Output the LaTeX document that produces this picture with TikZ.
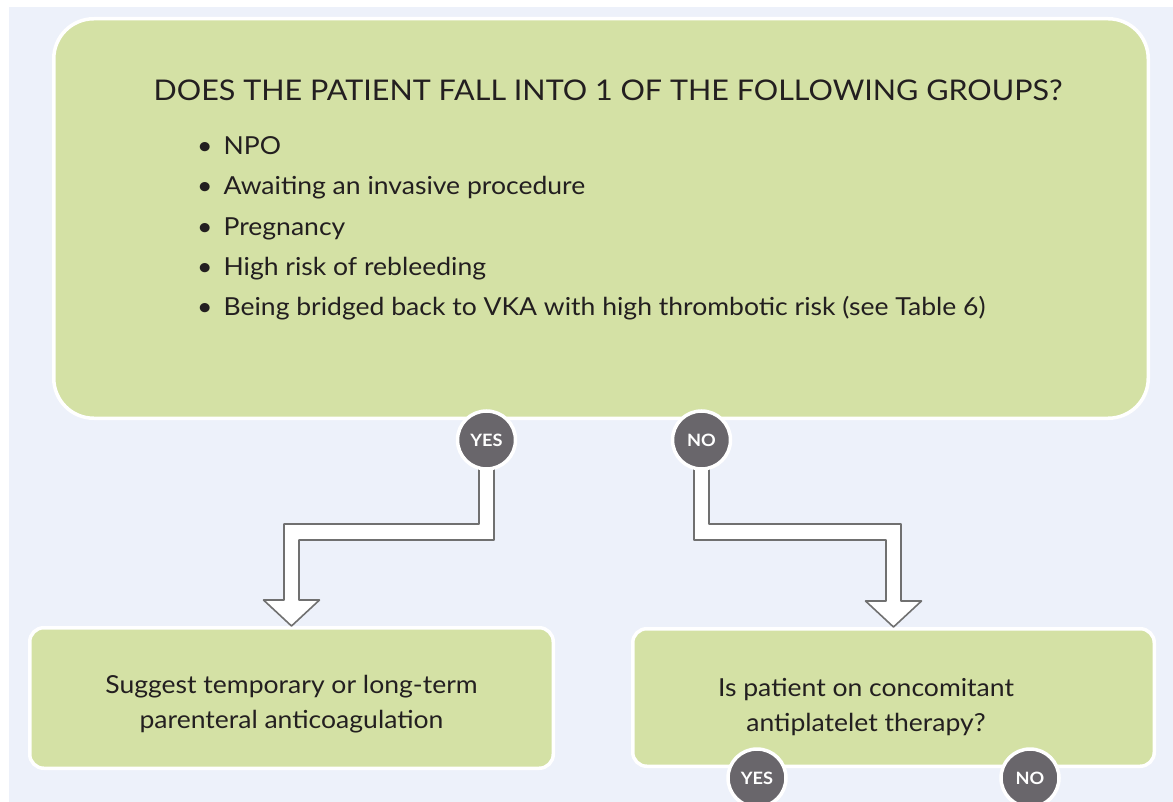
\documentclass[tikz,border=0pt]{standalone}
\usepackage{fontspec}
\setmainfont{Lato}[FakeStretch=1.07]
\usetikzlibrary{calc, positioning}

\definecolor{pagebg}{HTML}{EDF1FA}
\definecolor{boxgreen}{HTML}{D4E1A5}
\definecolor{dotgrey}{HTML}{69666B}
\definecolor{linegrey}{HTML}{707070}
\definecolor{ink}{HTML}{231F20}

\pgfdeclarelayer{under}
\pgfsetlayers{under,main}

% hollow bent arrow: from node, to anchor, corner offset (+8 goes left, -8 goes right)
\newcommand{\hollowarrow}[3]{%
\draw [arrowbody] ($(#1)+(-7.5,0)$) -- ($(#1 |- bend)+(-7.5,#3)$)
  -- ($(#2 |- bend)+(-7.5,#3)$) -- ($(#2)+(-7.5,26)$) -- ($(#2)+(-28,26)$)
  -- (#2) -- ($(#2)+(28,26)$) -- ($(#2)+(7.5,26)$)
  -- ($(#2 |- bend)+(7.5,{-1*#3})$) -- ($(#1 |- bend)+(7.5,{-1*#3})$) -- ($(#1)+(7.5,0)$);}

\begin{document}
\begin{tikzpicture}[x=1pt, y=1pt,
  greenbox/.style={draw=white, line width=3.5, fill=boxgreen, rounded corners=14},
  boxtext/.style={text=ink, font=\fontsize{24.8}{35}\selectfont, align=center},
  answer/.style={circle, draw=white, line width=3.5, fill=dotgrey, minimum size=58,
    inner sep=0pt, text=white, font=\fontsize{17}{17}\selectfont\bfseries},
  arrowbody/.style={draw=linegrey, line width=1.6, fill=white, line join=round}]
\path [use as bounding box, clip] (0,0) rectangle (1173,-802);

\node [answer] (yes1) at (486.5,-440) {YES};
\node [answer] (no1) at (701.5,-440) {NO};
\node [answer] (yes2) at (757,-778) {YES};
\node [answer] (no2) at (1030,-778) {NO};

\begin{pgfonlayer}{under}
\fill [white] (0,0) rectangle (1173,-802);
\fill [pagebg] (9,-7) rectangle (1173,-802);

\node [greenbox, rounded corners=40, minimum width=1094.5, minimum height=399.5] (groups) at (601,-218.5) {};
\node [text=ink, font=\fontsize{28.5}{30}\selectfont, anchor=base] (title) at (608,-101) {DOES THE PATIENT FALL INTO 1 OF THE FOLLOWING GROUPS?};
\node [text=ink, font=\fontsize{24.8}{40.2}\selectfont, align=left, anchor=north west, inner sep=0pt] (list) at (197,-136.5) {%
\textbullet\hspace{11pt}NPO\\
\textbullet\hspace{11pt}Awaiting an invasive procedure\\
\textbullet\hspace{11pt}Pregnancy\\
\textbullet\hspace{11pt}High risk of rebleeding\\
\textbullet\hspace{11pt}Being bridged back to VKA with high thrombotic risk (see Table 6)};

\node [greenbox, minimum width=523.5, minimum height=140.5] (sugg) at (291.5,-698) {};
\node [boxtext] at (291.5,-704) {Suggest temporary or long-term\\parenteral anticoagulation};
\node [greenbox, minimum width=521.5, minimum height=137.5] (conc) at (893.5,-697.5) {};
\node [boxtext] at (866,-707) {Is patient on concomitant\\antiplatelet therapy?};

\coordinate (bend) at (0,-532);
\hollowarrow{yes1}{sugg.north}{8}
\hollowarrow{no1}{conc.north}{-8}
\end{pgfonlayer}
\end{tikzpicture}
\end{document}
